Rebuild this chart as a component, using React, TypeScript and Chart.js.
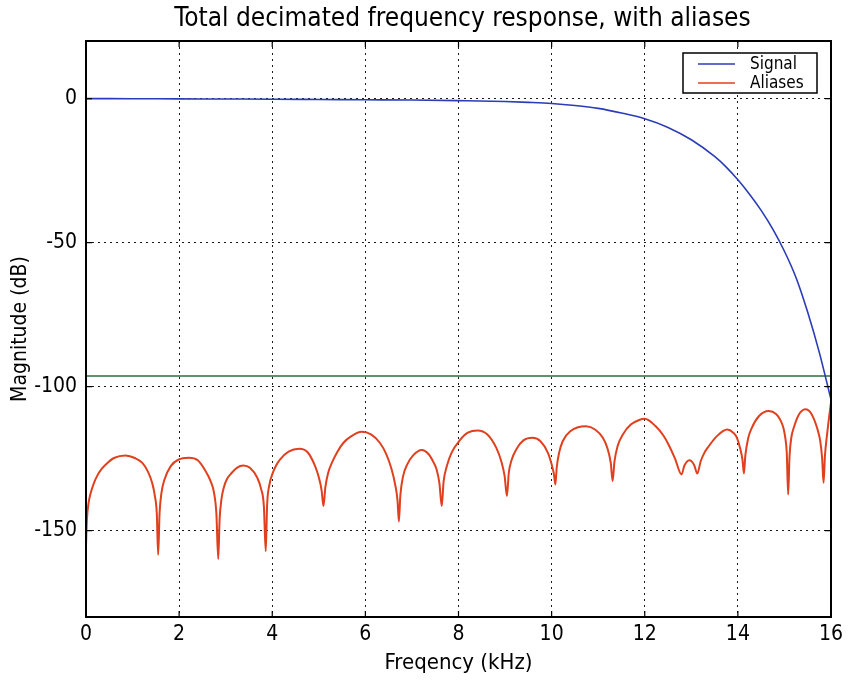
import React, { useEffect, useRef } from 'react';
import { Chart, registerables } from 'chart.js';

Chart.register(...registerables);

const TITLE = 'Total decimated frequency response, with aliases';
const X_LABEL = 'Freqency (kHz)';
const Y_LABEL = 'Magnitude (dB)';

const xTicks = [0, 2, 4, 6, 8, 10, 12, 14, 16];
const yTicks = [-150, -100, -50, 0];

const signalFreq = [0, 1, 2, 3, 4, 5, 6, 7, 8, 9, 9.5, 10, 10.5, 11, 11.5, 12, 12.5, 13, 13.5, 13.75, 14, 14.25, 14.5, 14.75, 15, 15.25, 15.5, 15.75, 16];
const signalDb = [0, -0.05, -0.1, -0.15, -0.2, -0.3, -0.4, -0.5, -0.7, -1.0, -1.3, -1.7, -2.4, -3.4, -5, -7, -10, -14.3, -20.1, -23.8, -28.2, -33.2, -38.8, -45.3, -53, -62.2, -74.2, -88.2, -104.5];

const aliasFreq = [
  0.0, 0.02, 0.05, 0.1, 0.17, 0.24, 0.34, 0.46, 0.6, 0.85, 1.05, 1.21, 1.33, 1.42, 1.48, 1.52, 1.55,
  1.58, 1.62, 1.68, 1.82, 1.98, 2.21, 2.4, 2.57, 2.68, 2.75, 2.8, 2.84,
  2.87, 2.91, 2.96, 3.03, 3.11, 3.24, 3.38, 3.52, 3.68, 3.76, 3.82, 3.86,
  3.89, 3.94, 4.0, 4.08, 4.17, 4.35, 4.58, 4.76, 4.92, 5.0, 5.06, 5.1,
  5.14, 5.2, 5.28, 5.4, 5.53, 5.7, 5.92, 6.12, 6.31, 6.45, 6.56, 6.64, 6.69, 6.72,
  6.75, 6.81, 6.9, 7.03, 7.21, 7.36, 7.47, 7.53, 7.59, 7.64,
  7.68, 7.75, 7.85, 8.03, 8.2, 8.41, 8.62, 8.81, 8.92, 8.99, 9.04,
  9.08, 9.14, 9.24, 9.4, 9.59, 9.76, 9.92, 10.0, 10.05, 10.08,
  10.11, 10.16, 10.24, 10.4, 10.74, 10.94, 11.1, 11.2, 11.27, 11.31,
  11.35, 11.42, 11.53, 11.7, 11.88, 12.0, 12.23, 12.4, 12.51, 12.65, 12.79,
  12.85, 12.96, 13.06, 13.13,
  13.2, 13.28, 13.37, 13.55, 13.77, 13.9, 13.98, 14.05, 14.1, 14.13,
  14.16, 14.22, 14.3, 14.45, 14.66, 14.82, 14.92, 14.98, 15.02, 15.05, 15.08,
  15.11, 15.15, 15.2, 15.3, 15.45, 15.58, 15.7, 15.77, 15.81, 15.84,
  15.87, 15.92, 15.96, 16.0,
];
const aliasDb = [
  -155, -146, -141, -137, -133.5, -131, -128.5, -126.5, -124.8, -123.9, -124.8, -126.5, -129.5, -133.4, -138, -144, -158.4,
  -144, -137, -132.5, -127.6, -125.4, -124.7, -125.6, -129.4, -133, -136.9, -144, -159.9,
  -146, -139, -135, -132, -130.3, -128.2, -127.4, -128.2, -131.7, -135.5, -141.5, -157.2,
  -141, -134, -130.5, -127.5, -125.3, -122.6, -121.6, -122.8, -127.6, -131.5, -136, -141.5,
  -135, -130, -126.5, -122.6, -119.5, -117.2, -115.7, -116.6, -119.5, -123.5, -128.5, -134, -139.5, -146.8,
  -138, -131.1, -127, -123.8, -122, -123.5, -126.5, -128.8, -133.5, -141.5,
  -133, -127.6, -123, -118.6, -116, -115.2, -116.6, -121.2, -126, -131, -138,
  -130, -125.5, -121.8, -118.6, -117.8, -119, -123, -127, -130.5, -134,
  -128, -123, -118.9, -115.5, -113.8, -115, -117.8, -121.5, -126.5, -132.8,
  -126, -120.5, -116.6, -113.2, -111.6, -111.2, -113.7, -117, -120.1, -125, -130.5,
  -127.5, -125.6, -127.2, -130.2,
  -126, -123, -120.8, -117.2, -114.9, -116, -117.8, -121.5, -125.5, -130.2,
  -124, -118, -114.3, -110.3, -108.5, -109.5, -111.8, -114.5, -118, -123, -137.5,
  -124, -117.5, -114.3, -110, -107.9, -109.5, -114.3, -119, -125, -133.4,
  -124, -116, -110.5, -105.5,
];

const noiseFreq = [0, 16];
const noiseDb = [-96.3, -96.3];

const FONT = "'DejaVu Sans Condensed', 'DejaVu Sans', sans-serif";

const toPoints = (xs: number[], ys: number[]) => xs.map((x, i) => ({ x, y: ys[i] }));

const framePlugin = {
  id: 'frame',
  afterDatasetsDraw(chart: any) {
    const { ctx, chartArea: a, scales } = chart;
    ctx.save();
    ctx.strokeStyle = '#000';
    ctx.lineWidth = 1.2;
    const tl = 6;
    ctx.beginPath();
    for (const v of xTicks) {
      const px = scales.x.getPixelForValue(v);
      ctx.moveTo(px, a.bottom);
      ctx.lineTo(px, a.bottom - tl);
      ctx.moveTo(px, a.top);
      ctx.lineTo(px, a.top + tl);
    }
    for (const v of yTicks) {
      const py = scales.y.getPixelForValue(v);
      ctx.moveTo(a.left, py);
      ctx.lineTo(a.left + tl, py);
      ctx.moveTo(a.right, py);
      ctx.lineTo(a.right - tl, py);
    }
    ctx.stroke();
    ctx.lineWidth = 2;
    ctx.strokeRect(a.left, a.top, a.right - a.left, a.bottom - a.top);
    ctx.restore();
  },
  afterDraw(chart: any) {
    const { ctx, chartArea: a } = chart;
    ctx.save();
    // title, centred over the plot area
    ctx.fillStyle = '#000';
    ctx.font = `26px ${FONT}`;
    ctx.textAlign = 'center';
    ctx.textBaseline = 'middle';
    ctx.fillText(TITLE, (a.left + a.right) / 2 + 4, 19);

    // legend inside the upper-right corner
    const items = chart.data.datasets.filter((d: any) => d.label);
    const boxW = 134;
    const rowH = 19;
    const boxH = 11 + rowH * (items.length - 1) + 10;
    const bx = a.right - 14 - boxW;
    const by = a.top + 12;
    ctx.fillStyle = '#fff';
    ctx.fillRect(bx, by, boxW, boxH);
    ctx.strokeStyle = '#000';
    ctx.lineWidth = 1.5;
    ctx.strokeRect(bx, by, boxW, boxH);
    ctx.font = `17px ${FONT}`;
    ctx.textBaseline = 'middle';
    ctx.textAlign = 'left';
    items.forEach((d: any, i: number) => {
      const y = by + 11 + i * rowH;
      ctx.strokeStyle = d.borderColor;
      ctx.lineWidth = 1.5;
      ctx.beginPath();
      ctx.moveTo(bx + 15, y);
      ctx.lineTo(bx + 52, y);
      ctx.stroke();
      ctx.fillStyle = '#000';
      ctx.fillText(d.label, bx + 67, y + 1);
    });
    ctx.restore();
  },
};

export default function App() {
  const ref = useRef<HTMLCanvasElement | null>(null);

  useEffect(() => {
    document.body.style.margin = '0';
    const canvas = ref.current;
    if (!canvas) return;
    const grid = {
      color: 'rgba(0,0,0,0.9)',
      lineWidth: 1,
      drawTicks: false,
    };
    const border = { display: false, dash: [2, 4] };
    const chart = new Chart(canvas, {
      type: 'line',
      data: {
        datasets: [
          {
            label: 'Signal',
            data: toPoints(signalFreq, signalDb),
            borderColor: '#2b3cb8',
            borderWidth: 1.6,
            pointRadius: 0,
            cubicInterpolationMode: 'monotone',
            fill: false,
          },
          {
            label: 'Aliases',
            data: toPoints(aliasFreq, aliasDb),
            borderColor: '#e0401e',
            borderWidth: 2,
            pointRadius: 0,
            cubicInterpolationMode: 'monotone',
            fill: false,
          },
          {
            label: '',
            data: toPoints(noiseFreq, noiseDb),
            borderColor: '#2e6e3a',
            borderWidth: 1.6,
            pointRadius: 0,
            tension: 0,
            fill: false,
          },
        ],
      },
      options: {
        responsive: false,
        animation: false,
        devicePixelRatio: 1,
        layout: { padding: { left: 0, right: 18, top: 41, bottom: 0 } },
        plugins: {
          legend: { display: false },
          tooltip: { enabled: false },
          title: { display: false },
        },
        scales: {
          x: {
            type: 'linear',
            min: 0,
            max: 16,
            afterFit: (s: any) => { s.height = 63; },
            afterBuildTicks: (s: any) => { s.ticks = xTicks.map((v) => ({ value: v })); },
            ticks: { color: '#000', font: { family: FONT, size: 21 }, padding: 5, maxRotation: 0 },
            grid,
            border,
            title: { display: true, text: X_LABEL, color: '#000', font: { family: FONT, size: 22 }, padding: { top: 0, bottom: 4 } },
          },
          y: {
            type: 'linear',
            min: -180,
            max: 20,
            afterFit: (s: any) => { s.width = 86; },
            afterBuildTicks: (s: any) => { s.ticks = yTicks.map((v) => ({ value: v })); },
            ticks: { color: '#000', font: { family: FONT, size: 21 }, padding: 9 },
            grid,
            border,
            title: { display: true, text: Y_LABEL, color: '#000', font: { family: FONT, size: 21 }, padding: { top: 8, bottom: 0 } },
          },
        },
      },
      plugins: [framePlugin],
    } as any);
    return () => chart.destroy();
  }, []);

  return (
    <div style={{ width: 849, height: 680, background: '#fff' }}>
      <canvas ref={ref} width={849} height={680} style={{ display: 'block' }} />
    </div>
  );
}
